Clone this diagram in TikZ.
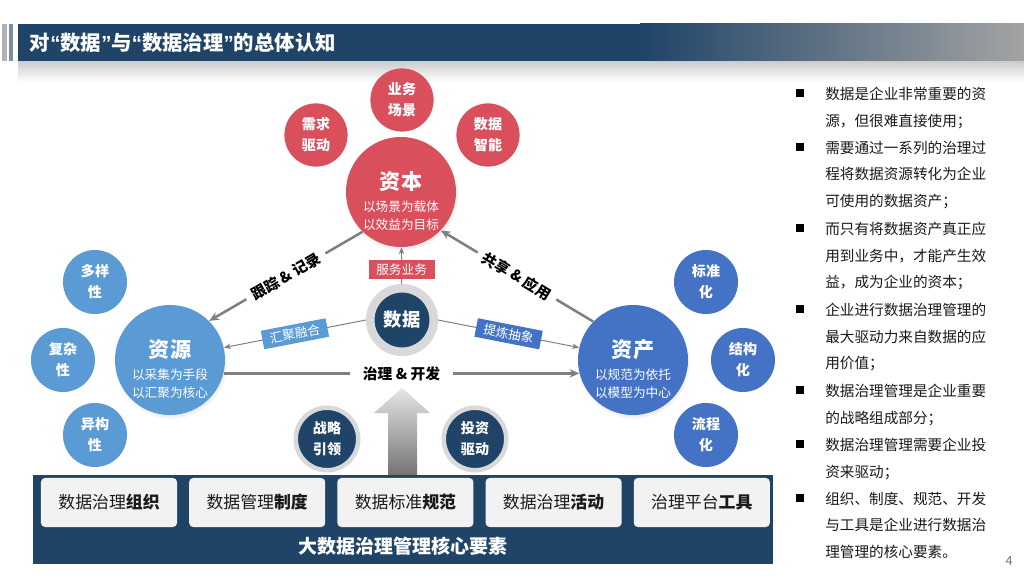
\documentclass[tikz,border=0pt]{standalone}
\usepackage{fontspec}
\setmainfont{Noto Sans CJK SC}
\newfontfamily\quotefont{Liberation Sans}
\usetikzlibrary{arrows.meta, positioning, shadows}
\definecolor{titlenavy}{RGB}{31, 68, 104}
\definecolor{capred}{RGB}{217, 80, 92}
\definecolor{reslight}{RGB}{91, 155, 213}
\definecolor{astblue}{RGB}{68, 114, 196}
\definecolor{linegrey}{RGB}{128, 128, 128}
\definecolor{ringgrey}{RGB}{217, 217, 217}
\definecolor{boxgrey}{RGB}{242, 242, 242}
\definecolor{textdark}{RGB}{26, 26, 26}
\newcommand{\qopen}{{\quotefont\bfseries “}}
\newcommand{\qclose}{{\quotefont\bfseries ”}}

\begin{document}
\begin{tikzpicture}[
    x=0.025cm, y=-0.025cm,
    every node/.style={font=\fontsize{10}{14}\selectfont},
    bigcirc/.style={circle, minimum size=2.75cm, inner sep=0pt, circular drop shadow={fill=black!14, shadow xshift=0.6pt, shadow yshift=-1.8pt, shadow scale=1.03}},
    smallcirc/.style={circle, minimum size=1.58cm, inner sep=0pt, text=white, align=center, font=\fontsize{10}{15}\selectfont\bfseries},
    coretxt/.style={text=white, align=center, inner sep=0pt, font=\fontsize{9}{12.8}\selectfont},
    hubnode/.style={circle, fill=titlenavy, draw=ringgrey, text=white, inner sep=0pt, align=center},
    tagbox/.style={rectangle, text=white, inner sep=0pt, minimum width=1.65cm, minimum height=0.47cm, font=\fontsize{9}{11}\selectfont},
    flow/.style={-{Stealth[length=7pt, width=6pt]}, linegrey, line width=1.8pt},
    thinflow/.style={-{Stealth[length=5pt, width=4pt]}, linegrey, line width=0.7pt},
    linelbl/.style={fill=white, inner ysep=2pt, inner xsep=5pt, text=black, font=\fontsize{10.5}{12}\selectfont\bfseries},
    pillar/.style={rectangle, rounded corners=0.1cm, fill=boxgrey, minimum width=3.4cm, minimum height=1.225cm, text=textdark, font=\fontsize{12}{14}\selectfont},
    bulsq/.style={rectangle, fill=black, minimum size=0.2cm, inner sep=0pt},
    bultxt/.style={anchor=north west, inner sep=0pt, align=left, text=textdark, font=\fontsize{10.4}{19.1}\selectfont}
]
\useasboundingbox (0,0) rectangle (1024,576);
\fill[white] (0,0) rectangle (1024,576);

% title bar
\shade[top color=black!20, bottom color=white] (18,61) rectangle (1024,82);
\fill[black!30] (2,24) rectangle (7,61);
\fill[titlenavy!60] (9,24) rectangle (13,61);
\fill[titlenavy] (18,24) rectangle (641,61);
\shade[left color=titlenavy, right color=black!36] (640,24) rectangle (1024,61);
\node[anchor=west, text=white, font=\fontsize{14.5}{17}\selectfont\bfseries] (title) at (25,43) {对\qopen 数据\qclose 与\qopen 数据治理\qclose 的总体认知};

% capital (red)
\node[bigcirc, fill=capred] (cap) at (401,192) {};
\node[coretxt] (captxt) at (401,201) {{\fontsize{15}{18}\selectfont\bfseries 资本}\\[3pt]以场景为载体\\以效益为目标};
\node[smallcirc, fill=capred] (scene) at (402,100) {业务\\场景};
\node[smallcirc, fill=capred] (demand) at (316,135) {需求\\驱动};
\node[smallcirc, fill=capred] (intel) at (488,135) {数据\\智能};

% resource (light blue)
\node[bigcirc, fill=reslight] (res) at (170,360) {};
\node[coretxt] (restxt) at (170,369) {{\fontsize{15}{18}\selectfont\bfseries 资源}\\[3pt]以采集为手段\\以汇聚为核心};
\node[smallcirc, fill=reslight, minimum size=1.6cm] (divers) at (95,282) {多样\\性};
\node[smallcirc, fill=reslight, minimum size=1.6cm] (complex) at (63,360) {复杂\\性};
\node[smallcirc, fill=reslight, minimum size=1.6cm] (hetero) at (95,435) {异构\\性};

% asset (blue)
\node[bigcirc, fill=astblue] (ast) at (633,360) {};
\node[coretxt] (asttxt) at (633,369) {{\fontsize{15}{18}\selectfont\bfseries 资产}\\[3pt]以规范为依托\\以模型为中心};
\node[smallcirc, fill=astblue, minimum size=1.6cm] (stdz) at (706,282) {标准\\化};
\node[smallcirc, fill=astblue, minimum size=1.6cm] (struct) at (743,360) {结构\\化};
\node[smallcirc, fill=astblue, minimum size=1.6cm] (procz) at (706,435) {流程\\化};

% data hub
\node[hubnode, minimum size=1.5875cm, line width=0.2125cm, font=\fontsize{13}{15}\selectfont\bfseries] (dat) at (402,320) {数据};

\draw[thinflow] (dat) -- node[tagbox, fill=capred, pos=0.4] (serve) {服务业务} (cap);
\draw[thinflow] (dat.west) -- node[tagbox, fill=reslight, sloped] (merge) {汇聚融合} (res.13);
\draw[thinflow] (dat.east) -- node[tagbox, fill=astblue, sloped] (refine) {提炼抽象} (ast.167);

\draw[flow] (cap.226) -- node[linelbl, sloped] (trace) {跟踪 \& 记录} (res.45);
\draw[flow] (ast.136) -- node[linelbl, sloped] (share) {共享 \& 应用} (cap.316);
\draw[flow] (res.-14) -- node[linelbl, inner xsep=9pt] (gov) {治理 \& 开发} (ast.194);

% drivers
\shade[top color=black!10, bottom color=black!55] (388,476) -- (388,413) -- (374,413) -- (402,388) -- (430,413) -- (417,413) -- (417,476) -- cycle;
\node[hubnode, minimum size=1.5625cm, line width=0.1125cm, font=\fontsize{10}{15}\selectfont\bfseries] (lead) at (327,439) {战略\\引领};
\node[hubnode, minimum size=1.5625cm, line width=0.1125cm, font=\fontsize{10}{15}\selectfont\bfseries] (invest) at (475,439) {投资\\驱动};

% core elements
\node[rectangle, fill=titlenavy, minimum width=18.5cm, minimum height=2.225cm, inner sep=0pt] (core) at (403,519.5) {};
\node[pillar] (p1) at (109,502.5) {数据治理\textbf{组织}};
\node[pillar, right=0.29cm of p1] (p2) {数据管理\textbf{制度}};
\node[pillar, right=0.29cm of p2] (p3) {数据标准\textbf{规范}};
\node[pillar, right=0.29cm of p3] (p4) {数据治理\textbf{活动}};
\node[pillar, right=0.29cm of p4] (p5) {治理平台\textbf{工具}};
\node[text=white, font=\fontsize{13.5}{16}\selectfont\bfseries] (coretitle) at (403,546) {大数据治理管理核心要素};

% notes
\node[bulsq] (b1) at (800,93) {};
\node[bultxt] (t1) at (825,86.5) {数据是企业非常重要的资\\源，但很难直接使用；};
\node[bulsq] (b2) at (800,147) {};
\node[bultxt] (t2) at (825,140.5) {需要通过一系列的治理过\\程将数据资源转化为企业\\可使用的数据资产；};
\node[bulsq] (b3) at (800,228) {};
\node[bultxt] (t3) at (825,221.5) {而只有将数据资产真正应\\用到业务中，才能产生效\\益，成为企业的资本；};
\node[bulsq] (b4) at (800,309) {};
\node[bultxt] (t4) at (825,302.5) {企业进行数据治理管理的\\最大驱动力来自数据的应\\用价值；};
\node[bulsq] (b5) at (800,390) {};
\node[bultxt] (t5) at (825,383.5) {数据治理管理是企业重要\\的战略组成部分；};
\node[bulsq] (b6) at (800,444) {};
\node[bultxt] (t6) at (825,437.5) {数据治理管理需要企业投\\资来驱动；};
\node[bulsq] (b7) at (800,498) {};
\node[bultxt] (t7) at (825,491.5) {组织、制度、规范、开发\\与工具是企业进行数据治\\理管理的核心要素。};

\node[text=black!55, font=\fontsize{9}{10}\selectfont] (pg) at (1009,561) {4};
\end{tikzpicture}
\end{document}
